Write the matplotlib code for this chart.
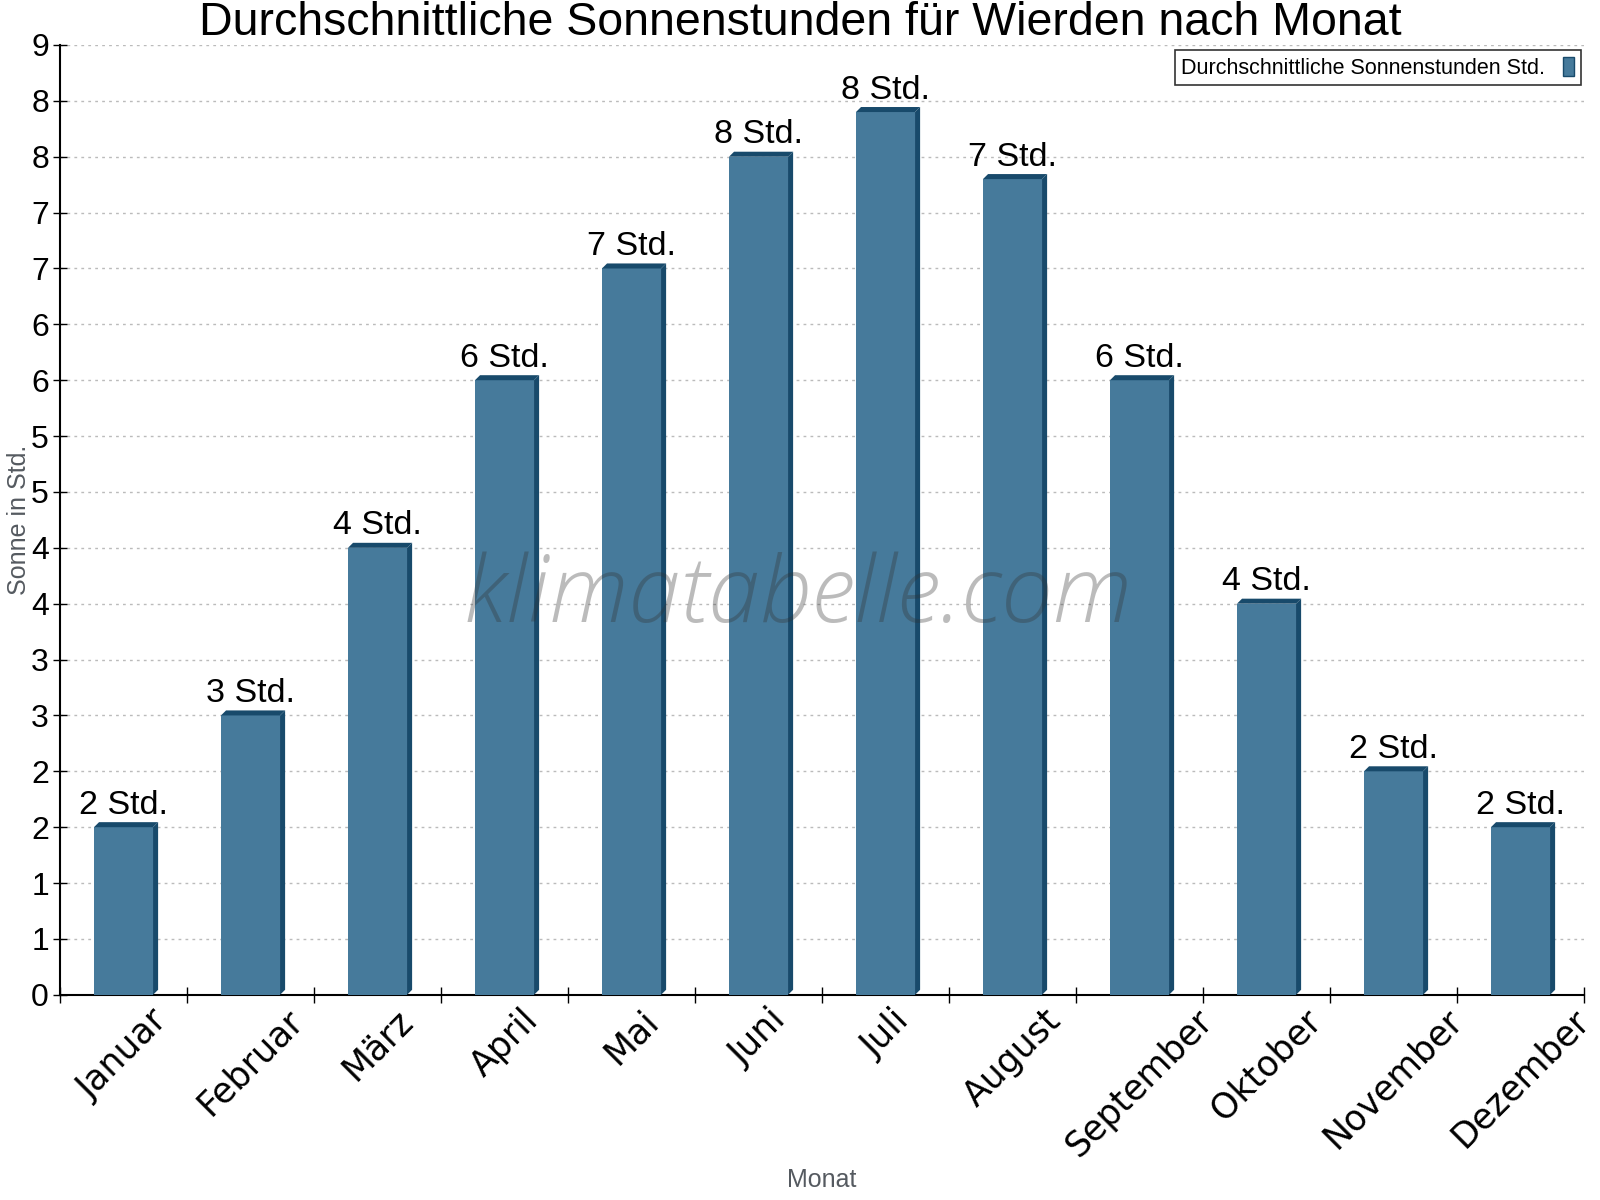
import numpy as np
import matplotlib.pyplot as plt
from matplotlib.ticker import FixedLocator, FuncFormatter, MultipleLocator

plt.rcParams['font.family'] = ['Liberation Sans', 'DejaVu Sans']

# Daten
monate = ["Januar", "Februar", "März", "April", "Mai", "Juni", "Juli",
          "August", "September", "Oktober", "November", "Dezember"]
sonne = [1.5, 2.5, 4.0, 5.5, 6.5, 7.5, 7.9, 7.3, 5.5, 3.5, 2.0, 1.5]
y_ticks = np.arange(0, 8.51, 0.5)

front = "#467a9b"
dark = "#184a6b"

fig = plt.figure(figsize=(16, 12), dpi=100)
ax = fig.add_axes([0.0375, 0.171, 0.9525, 0.7915])

x = np.arange(len(monate))
w = 0.465
dx = 0.04   # Tiefe seitlich
dy = 0.045  # Tiefe oben
ax.bar(x, sonne, width=w, color=front, zorder=3, label="Durchschnittliche Sonnenstunden Std.")
for xi, v in zip(x, sonne):
    r = xi + w / 2
    l = xi - w / 2
    ax.fill([r, r + dx, r + dx, r], [0, dy, v + dy, v], color=dark, zorder=3, lw=0)
    ax.fill([l, l + dx, r + dx, r], [v, v + dy, v + dy, v], color=dark, zorder=3, lw=0)
    ax.annotate(f"{int(np.floor(v + 0.5))} Std.", (xi, v + dy), xytext=(0, 1),
                textcoords="offset points", ha="center", va="bottom", fontsize=24.5)

ax.set_xlim(-0.5, 11.5)
ax.set_ylim(0, 8.5)
ax.yaxis.set_major_locator(FixedLocator(y_ticks))
ax.yaxis.set_major_formatter(FuncFormatter(lambda v, p: str(int(np.floor(v + 0.5)))))
ax.grid(axis="y", color="#bbbbbb", linestyle=(0, (2, 3)), linewidth=1, zorder=0)
ax.set_axisbelow(True)

ax.set_xticks(x)
ax.set_xticklabels(monate, rotation=45, ha="center", fontsize=25, family="DejaVu Sans")
ax.xaxis.set_minor_locator(MultipleLocator(1, offset=0.5))
ax.tick_params(axis="x", which="major", length=0, pad=6)
ax.tick_params(axis="x", which="minor", direction="inout", length=11, width=1)
ax.tick_params(axis="y", direction="inout", length=10, width=1, labelsize=23, pad=3)

for s in ["top", "right"]:
    ax.spines[s].set_visible(False)
for s in ["left", "bottom"]:
    ax.spines[s].set_linewidth(1.5)

ax.set_ylabel("Sonne in Std.", fontsize=18, color="#555a60")
ax.set_xlabel("Monat", fontsize=18, color="#555a60")
ax.xaxis.set_label_coords(0.5, -0.182)
ax.yaxis.set_label_coords(-0.019, 0.5)

fig.text(0.5, 0.981, "Durchschnittliche Sonnenstunden für Wierden nach Monat",
         ha="center", va="center", fontsize=33.5)

ax.text(0.484, 0.418, "klimatabelle.com", transform=ax.transAxes, ha="center", va="center",
        fontsize=67, style="italic", family=["Open Sans", "Lato", "DejaVu Sans"],
        fontweight="light", color="#333333", alpha=0.33, zorder=5)

leg = ax.legend(loc="upper right", bbox_to_anchor=(1.005, 1.006), markerfirst=False,
                fontsize=15.5, frameon=True, fancybox=False, edgecolor="black",
                handlelength=0.55, handleheight=1.0, borderpad=0.3, handletextpad=0.8)
leg.get_frame().set_linewidth(1.2)
leg.legend_handles[0].set_edgecolor(dark)

fig.savefig("out.png", dpi=100)
